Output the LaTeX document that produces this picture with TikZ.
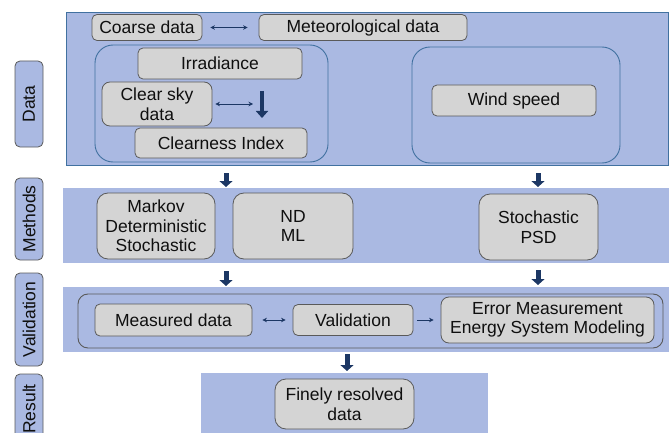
\documentclass[tikz,border=0pt]{standalone}
\usepackage{fontspec}
\setmainfont{Liberation Sans}
\usetikzlibrary{arrows.meta}
\definecolor{bandblue}{RGB}{170,185,226}
\definecolor{boxgray}{RGB}{212,212,212}
\definecolor{boxline}{RGB}{90,90,90}
\definecolor{contblue}{RGB}{65,113,160}
\definecolor{arrnavy}{RGB}{28,55,100}
\definecolor{txt}{RGB}{15,15,15}
\tikzset{
  band/.style={fill=bandblue, draw=none, inner sep=0pt},
  box/.style={rounded corners=5pt, fill=boxgray, draw=boxline, line width=0.8pt,
    align=center, inner sep=0pt, text=txt, font=\fontsize{17.5}{19.5}\selectfont},
  bigbox/.style={box, rounded corners=11pt},
  cont/.style={rounded corners=18pt, draw=contblue, line width=0.9pt, inner sep=0pt},
  lab/.style={rotate=90, rounded corners=5pt, fill=bandblue, draw=boxline, line width=0.8pt,
    inner sep=0pt, minimum height=28pt, text=txt, font=\fontsize{17.5}{19.5}\selectfont},
  dbl/.style={draw=arrnavy, line width=0.9pt, {Stealth[length=4.5pt,width=4.5pt]}-{Stealth[length=4.5pt,width=4.5pt]}},
  sgl/.style={draw=arrnavy, line width=0.9pt, -{Stealth[length=4.5pt,width=4.5pt]}},
  thick arr/.style={draw=arrnavy, line width=5pt, -{Triangle[length=6pt,width=13pt]}},
}
\begin{document}
\begin{tikzpicture}[x=1pt,y=-1pt]
\useasboundingbox (0,0) rectangle (669,433);
\clip (0,0) rectangle (669,433);
% bands
\node[band, draw=contblue, line width=0.9pt, minimum width=602pt, minimum height=153pt] (databand) at (367,88.5) {};
\node[band, minimum width=606pt, minimum height=75pt] (methband) at (366,225.5) {};
\node[band, minimum width=606pt, minimum height=65pt] (valband) at (366,319.5) {};
\node[band, minimum width=287pt, minimum height=70pt] (resband) at (344.5,408) {};
% side labels
\node[lab, minimum width=86pt] (ldata) at (29,104) {Data};
\node[lab, minimum width=82pt] (lmeth) at (29,219) {Methods};
\node[lab, minimum width=93pt] (lval) at (29,319.5) {Validation};
\node[lab, minimum width=70pt] (lres) at (29,409) {Result};
% data section
\node[box, minimum width=110pt, minimum height=26pt] (coarse) at (147,27.5) {Coarse data};
\node[box, minimum width=208pt, minimum height=26pt] (meteo) at (363,27.5) {Meteorological data};
\draw[dbl, shorten <=8pt, shorten >=11pt] (coarse) -- (meteo);
\node[cont, minimum width=233pt, minimum height=117pt] (solar) at (211.5,103.5) {};
\node[box, minimum width=164pt, minimum height=31pt] (irr) at (220,63.5) {Irradiance};
\node[box, minimum width=110pt, minimum height=44pt, rounded corners=8pt] (clear) at (157,104) {Clear sky\\data};
\node[box, minimum width=172pt, minimum height=30pt] (ci) at (221,143) {Clearness Index};
\coordinate (clearend) at (253,104);
\draw[dbl, shorten <=3pt] (clear.east) -- (clearend);
\coordinate (ka) at (262,91);
\coordinate (kb) at (262,118);
\draw[thick arr, line width=4.5pt, -{Triangle[length=7pt,width=12pt]}] (ka) -- (kb);
\node[cont, minimum width=208pt, minimum height=116pt] (windc) at (516,105) {};
\node[box, minimum width=164pt, minimum height=31pt] (wind) at (514,100.5) {Wind speed};
% methods section
\node[bigbox, minimum width=118pt, minimum height=66pt] (markov) at (156,226) {Markov\\Deterministic\\Stochastic};
\node[bigbox, minimum width=120pt, minimum height=66pt] (ndml) at (293,226) {ND\\ML};
\node[bigbox, minimum width=119pt, minimum height=66pt] (psd) at (538.5,227) {Stochastic\\PSD};
\coordinate (a1s) at (226,173);
\coordinate (a1e) at (226,187);
\coordinate (a2s) at (538,173);
\coordinate (a2e) at (538,187);
\draw[thick arr] (a1s) -- (a1e);
\draw[thick arr] (a2s) -- (a2e);
\coordinate (a3s) at (226,271);
\coordinate (a3e) at (226,286);
\coordinate (a4s) at (538,270);
\coordinate (a4e) at (538,285);
\draw[thick arr] (a3s) -- (a3e);
\draw[thick arr] (a4s) -- (a4e);
% validation section
\node[cont, rounded corners=10pt, draw=boxline, minimum width=585pt, minimum height=54pt] (valc) at (370.5,321) {};
\node[box, minimum width=157pt, minimum height=32pt] (meas) at (173.5,320) {Measured data};
\node[box, minimum width=120pt, minimum height=31pt] (valid) at (353,320) {Validation};
\node[box, minimum width=213pt, minimum height=46pt, rounded corners=8pt] (err) at (547.5,320) {Error Measurement\\Energy System Modeling};
\draw[dbl, shorten <=10pt, shorten >=7pt] (meas) -- (valid);
\draw[sgl, shorten <=4pt, shorten >=7pt] (valid) -- (err);
\coordinate (a5s) at (347,354);
\coordinate (a5e) at (347,371);
\draw[thick arr] (a5s) -- (a5e);
% result
\node[bigbox, minimum width=139pt, minimum height=50pt] (fine) at (344.5,404) {Finely resolved\\data};
\end{tikzpicture}
\end{document}
